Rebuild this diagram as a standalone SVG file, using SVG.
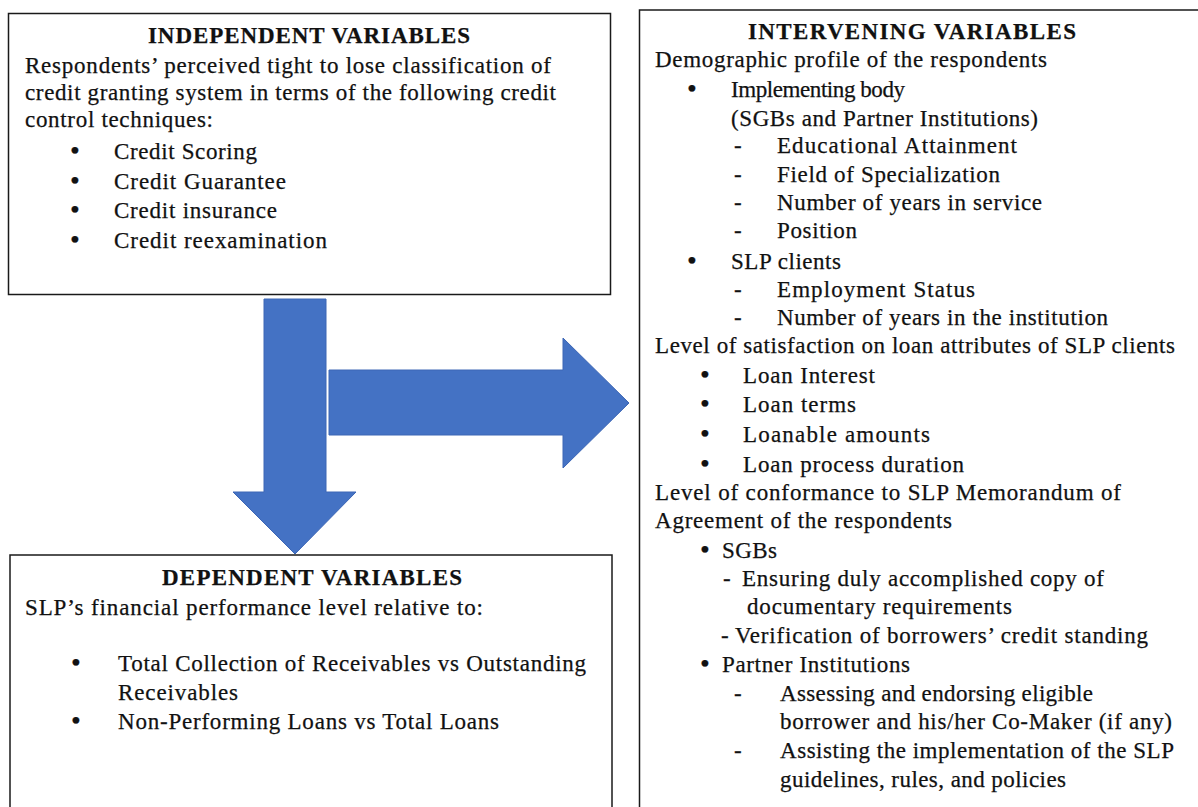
<svg xmlns="http://www.w3.org/2000/svg" width="1198" height="807" viewBox="0 0 1198 807">
<style>
.box{fill:#fff;stroke:#1a1a1a;stroke-width:1.5}
.t{font-family:"Liberation Serif","Times New Roman",serif;font-size:23px;fill:#111;stroke:#111;stroke-width:0.25}
.b{font-weight:bold}
.bu{font-size:28px}
.arr{fill:#4472C4;stroke:#3c66b5;stroke-width:1}
</style>
<rect width="1198" height="807" fill="#fff"/>
<g id="connectors">
<polygon class="arr" points="264,299 326,299 326,492 356,492 295,554 233,492 264,492"/>
<polygon class="arr" points="329,370 563,370 563,338 629,403 563,468 563,435 329,435"/>
</g>
<g id="independent">
<rect class="box" x="8.5" y="13.5" width="602" height="281"/>
<text class="t b" x="148" y="43" textLength="322">INDEPENDENT  VARIABLES</text>
<text class="t" x="25" y="73" textLength="526">Respondents’ perceived tight to lose classification of</text>
<text class="t" x="25" y="100" textLength="531">credit granting system in terms of the following credit</text>
<text class="t" x="25" y="127" textLength="188">control techniques:</text>
<text class="t bu" x="70" y="160">•</text>
<text class="t" x="114" y="159" textLength="143">Credit Scoring</text>
<text class="t bu" x="70" y="190">•</text>
<text class="t" x="114" y="189" textLength="172">Credit Guarantee</text>
<text class="t bu" x="70" y="219">•</text>
<text class="t" x="114" y="218" textLength="163">Credit insurance</text>
<text class="t bu" x="70" y="249">•</text>
<text class="t" x="114" y="248" textLength="213">Credit reexamination</text>
</g>
<g id="dependent">
<rect class="box" x="10" y="555" width="602" height="270"/>
<text class="t b" x="162" y="585" textLength="300">DEPENDENT  VARIABLES</text>
<text class="t" x="25" y="615" textLength="458">SLP’s financial performance level relative to:</text>
<text class="t bu" x="71" y="672">•</text>
<text class="t" x="118" y="671" textLength="468">Total Collection of Receivables vs Outstanding</text>
<text class="t" x="118" y="700" textLength="120">Receivables</text>
<text class="t bu" x="71" y="730">•</text>
<text class="t" x="118" y="729" textLength="381">Non-Performing Loans vs Total Loans</text>
</g>
<g id="intervening">
<rect class="box" x="639.5" y="10" width="580" height="820"/>
<text class="t b" x="748" y="39" textLength="328">INTERVENING  VARIABLES</text>
<text class="t" x="655" y="67" textLength="392">Demographic profile of the respondents</text>
<text class="t bu" x="687" y="98">•</text>
<text class="t" x="731" y="97" textLength="174">Implementing body</text>
<text class="t" x="731" y="126" textLength="307">(SGBs and Partner Institutions)</text>
<text class="t" x="734" y="153">-</text>
<text class="t" x="777" y="153" textLength="240">Educational Attainment</text>
<text class="t" x="734" y="182">-</text>
<text class="t" x="777" y="182" textLength="223">Field of Specialization</text>
<text class="t" x="734" y="210">-</text>
<text class="t" x="777" y="210" textLength="265">Number of years in service</text>
<text class="t" x="734" y="238">-</text>
<text class="t" x="777" y="238" textLength="80">Position</text>
<text class="t bu" x="687" y="270">•</text>
<text class="t" x="731" y="269" textLength="110">SLP clients</text>
<text class="t" x="734" y="297">-</text>
<text class="t" x="777" y="297" textLength="198">Employment Status</text>
<text class="t" x="734" y="325">-</text>
<text class="t" x="777" y="325" textLength="331">Number of years in the institution</text>
<text class="t" x="655" y="353" textLength="520">Level of satisfaction on loan attributes of SLP clients</text>
<text class="t bu" x="700" y="384">•</text>
<text class="t" x="743" y="383" textLength="132">Loan Interest</text>
<text class="t bu" x="700" y="413">•</text>
<text class="t" x="743" y="412" textLength="113">Loan terms</text>
<text class="t bu" x="700" y="443">•</text>
<text class="t" x="743" y="442" textLength="187">Loanable amounts</text>
<text class="t bu" x="700" y="473">•</text>
<text class="t" x="743" y="472" textLength="221">Loan process duration</text>
<text class="t" x="655" y="500" textLength="466">Level of conformance to SLP Memorandum of</text>
<text class="t" x="655" y="528" textLength="297">Agreement of the respondents</text>
<text class="t bu" x="700" y="559">•</text>
<text class="t" x="722" y="558" textLength="55">SGBs</text>
<text class="t" x="723" y="586">-</text>
<text class="t" x="742" y="586" textLength="362">Ensuring duly accomplished copy of</text>
<text class="t" x="747" y="614" textLength="265">documentary requirements</text>
<text class="t" x="721" y="643">-</text>
<text class="t" x="735" y="643" textLength="413">Verification of borrowers’ credit standing</text>
<text class="t bu" x="700" y="673">•</text>
<text class="t" x="722" y="672" textLength="188">Partner Institutions</text>
<text class="t" x="734" y="701">-</text>
<text class="t" x="780" y="701" textLength="313">Assessing and endorsing eligible</text>
<text class="t" x="780" y="729" textLength="392">borrower and his/her Co-Maker (if any)</text>
<text class="t" x="734" y="758">-</text>
<text class="t" x="780" y="758" textLength="394">Assisting the implementation of the SLP</text>
<text class="t" x="780" y="787" textLength="286">guidelines, rules, and policies</text>
</g>
</svg>
